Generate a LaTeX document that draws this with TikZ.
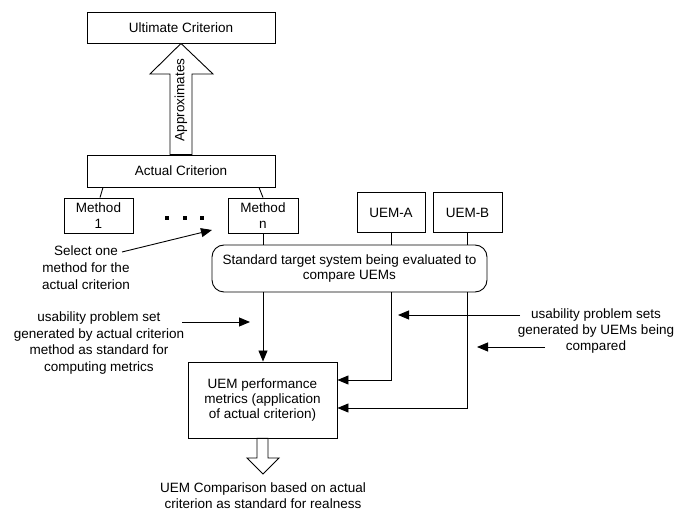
\documentclass[tikz,border=0pt]{standalone}
\usepackage{fontspec}
\setmainfont{Liberation Sans}
\usetikzlibrary{arrows.meta,calc}
\begin{document}
\begin{tikzpicture}[x=1pt,y=-1pt,
  font=\fontsize{13.5}{15.5}\selectfont,
  box/.style={draw,line width=0.9pt,inner sep=0pt,align=center},
  rbox/.style={box,rounded corners=12pt},
  lbl/.style={inner sep=0pt,align=center,font=\fontsize{13.5}{16.7}\selectfont},
  ln/.style={line width=0.9pt},
  arr/.style={ln,-{Triangle[length=11pt,width=9pt]}},
  dot/.style={fill=black,minimum size=3.6pt,inner sep=0pt},
  hollow/.style={draw,line width=0.9pt,fill=white,line join=miter}]
\useasboundingbox (0,0) rectangle (675,510);
% boxes
\node[box,minimum width=188pt,minimum height=31pt] (ult) at (181,27.5) {Ultimate Criterion};
\node[box,minimum width=188pt,minimum height=32pt] (act) at (181,171) {Actual Criterion};
\node[box,minimum width=69pt,minimum height=35pt] (m1) at (98.5,215.5) {Method\\[1pt]1};
\node[box,minimum width=70pt,minimum height=35pt] (mn) at (263,215.5) {Method\\[1pt]n};
\node[box,minimum width=68pt,minimum height=40pt] (uema) at (391,212.5) {UEM-A};
\node[box,minimum width=69pt,minimum height=40pt] (uemb) at (467.5,212.5) {UEM-B};
\node[rbox,minimum width=275pt,minimum height=47pt,font=\fontsize{13.5}{14.5}\selectfont] (std) at (349.5,268.5) {Standard target system being evaluated to\\compare UEMs};
\node[box,minimum width=149pt,minimum height=76pt,font=\fontsize{13.5}{14.8}\selectfont] (perf) at (262.5,400) {UEM performance\\metrics (application\\of actual criterion)};
% dots
\node[dot] (d1) at (167,218) {};
\node[dot] (d2) at (185,218) {};
\node[dot] (d3) at (202,218) {};
% big hollow arrow up
\path[hollow] (act.north -| 170,0) -- (170,74) -- (150,74) -- (ult.south) -- (213,74) -- (192,74) -- (act.north -| 192,0) -- cycle;
\node[rotate=90,inner sep=0pt] (appr) at (181,100) {Approximates};
% hollow arrow down
\path[hollow] (perf.south -| 257,0) -- (257,458) -- (247,458) -- (263,474) -- (279,458) -- (268,458) -- (perf.south -| 268,0) -- cycle;
% connectors
\draw[ln] ([xshift=-78pt]act.south) -- ([xshift=1.5pt]m1.north);
\draw[ln] ([xshift=78pt]act.south) -- (mn.north);
\draw[ln] (mn.south) -- (mn.south |- std.north);
\draw[ln] (uema.south) -- (uema.south |- std.north);
\draw[ln] (uemb.south) -- (uemb.south |- std.north);
\draw[arr] (std.south -| mn.south) -- (perf.north -| mn.south);
\draw[arr] (std.south -| uema.south) |- ([yshift=20pt]perf.east);
\draw[arr] (std.south -| uemb.south) |- ([yshift=-8pt]perf.east);
% labels
\node[lbl] (sel) at (86,267.5) {Select one\\method for the\\actual criterion};
\coordinate (selA) at (122,252);
\coordinate (selB) at (212,230);
\draw[arr] (selA) -- (selB);
\node[lbl] (lft) at (99,343) {usability problem set\\generated by actual criterion\\method as standard for\\computing metrics};
\coordinate (lA) at (182,322);
\coordinate (lB) at (250,322);
\draw[arr] (lA) -- (lB);
\node[lbl,font=\fontsize{13.5}{16}\selectfont] (rgt) at (596,331) {usability problem sets\\generated by UEMs being\\compared};
\coordinate (rA) at (520,315);
\coordinate (rB) at (398,315);
\coordinate (rC) at (545,347);
\coordinate (rD) at (477,347);
\draw[arr] (rA) -- (rB);
\draw[arr] (rC) -- (rD);
\node[lbl,font=\fontsize{13.5}{15.5}\selectfont] (bot) at (263,495.5) {UEM Comparison based on actual\\criterion as standard for realness};
\end{tikzpicture}
\end{document}
